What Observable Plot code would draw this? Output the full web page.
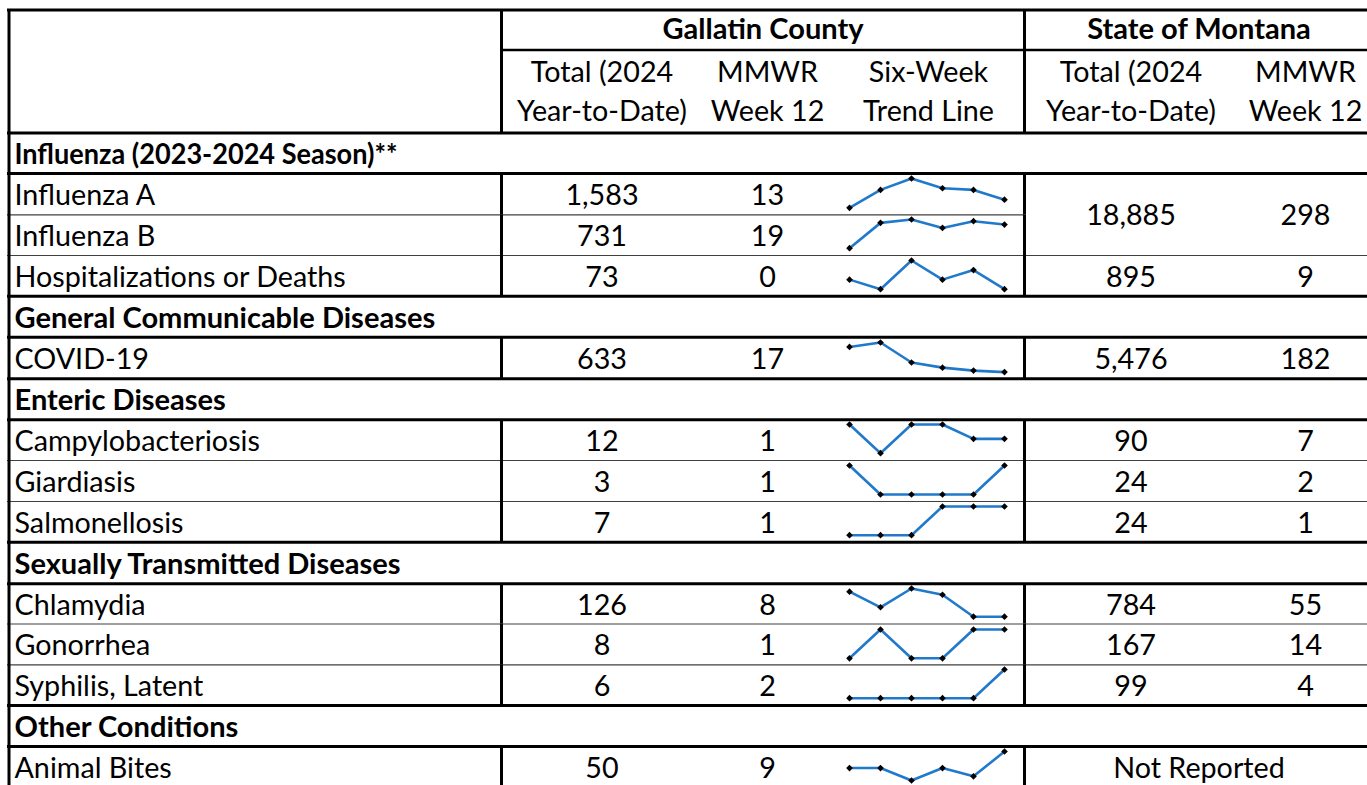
<!DOCTYPE html>
<html><head><meta charset="utf-8">
<script src="https://cdn.jsdelivr.net/npm/d3@7"></script>
<script src="https://cdn.jsdelivr.net/npm/@observablehq/plot@0.6"></script>
<style>
html,body{margin:0;padding:0;background:#fff;}
#wrap{position:relative;width:1367px;height:785px;overflow:hidden;background:#fff;}
#wrap svg{position:absolute;left:0;top:0;}
</style></head><body><div id="wrap"></div>
<script>
// ---------- data ----------
const rowLabels = ["Influenza (2023-2024 Season)**","Influenza A","Influenza B","Hospitalizations or Deaths",
  "General Communicable Diseases","COVID-19","Enteric Diseases","Campylobacteriosis","Giardiasis","Salmonellosis",
  "Sexually Transmitted Diseases","Chlamydia","Gonorrhea","Syphilis, Latent","Other Conditions","Animal Bites"];
const isSection = [true,false,false,false,true,false,true,false,false,false,true,false,false,false,true,false];
const countyTotal = [null,1583,731,73,null,633,null,12,3,7,null,126,8,6,null,50];
const countyWeek  = [null,13,19,0,null,17,null,1,1,1,null,8,1,2,null,9];
const stateTotal  = [null,18885,null,895,null,5476,null,90,24,24,null,784,167,99,null,"Not Reported"];
const stateWeek   = [null,298,null,9,null,182,null,7,2,1,null,55,14,4,null,null];
const mergedStateRows = [[1,2]]; // Influenza A and B share one State of Montana figure
const trendWeeks = [7,8,9,10,11,12];
const trendValues = [null,[8,19,26,20,19,13],[5,20,22,17,21,19],[1,0,3,1,2,0],null,[51,57,30,23,19,17],null,
  [2,0,2,2,1,1],[1,0,0,0,0,1],[0,0,0,1,1,1],null,[16,11,17,15,8,8],[0,1,0,0,1,1],[0,0,0,0,0,2],null,[5,5,2,5,3,9]];
const groupHeaders = ["Gallatin County","State of Montana"];
const colHeaders = [["Total (2024","Year-to-Date)"],["MMWR","Week 12"],["Six-Week","Trend Line"],["Total (2024","Year-to-Date)"],["MMWR","Week 12"]];

// ---------- layout ----------
const FONT = "Lato, 'Open Sans', sans-serif";
const colEdges = [8.5, 501, 702, 832, 1024, 1237, 1373];
const colCenter = i => (colEdges[i] + colEdges[i+1]) / 2;
const headerLines = [9.5, 49.5, 132.5];
const rowLines = [132.5,173,214.3,255,295.7,336.7,378.3,419.3,460,501,541.7,583.3,623.5,664.3,705,746,787];
const BLUE = "#2179cc";
const BODY_DY = 1.6;
const labelFitWidth = {0: 383}; // Calibri-like narrow digits in the bold influenza header

const ctx = document.createElement("canvas").getContext("2d");
const mw = (t, wt) => { ctx.font = `${wt} 100px Lato`; return ctx.measureText(t).width; };
const FS = 100 * 332 / mw("Hospitalizations or Deaths", "normal");
const BFS = 100 * 421 / mw("General Communicable Diseases", "bold");

const fmt = v => typeof v === "number" ? d3.format(",")(v) : v;
const rowMid = i => (rowLines[i] + rowLines[i+1]) / 2;

// grid lines
const thickH = [], thinH = [], thickV = [];
thickH.push({y: headerLines[0], x1: 7, x2: 1380});
thickH.push({y: headerLines[1], x1: colEdges[1], x2: 1380, w: 2.5});
thickH.push({y: headerLines[2], x1: 7, x2: 1380});
for (let k = 1; k < rowLines.length; k++) {
  const above = k - 1, below = k;
  const thick = isSection[above] || below >= rowLabels.length || isSection[below];
  const merged = mergedStateRows.some(([a, b]) => above >= a && below <= b);
  const seg = {y: rowLines[k], x1: 7, x2: merged ? colEdges[4] : 1380};
  (thick ? thickH : thinH).push(seg);
}
thickV.push({x: colEdges[0], y1: headerLines[0], y2: rowLines[rowLines.length - 1] + 2});
thickV.push({x: colEdges[1], y1: headerLines[0], y2: headerLines[2]});
thickV.push({x: colEdges[4], y1: headerLines[0], y2: headerLines[2]});
rowLabels.forEach((_, i) => {
  if (isSection[i]) return;
  for (const c of [1, 4]) thickV.push({x: colEdges[c], y1: rowLines[i], y2: rowLines[i+1]});
});

// texts
const headBold = [], headNorm = [], boldLeft = [], normLeft = [], normCenter = [];
headBold.push({x: (colEdges[1] + colEdges[4]) / 2, y: (headerLines[0] + headerLines[1]) / 2, t: groupHeaders[0]});
headBold.push({x: (colEdges[4] + colEdges[6]) / 2, y: (headerLines[0] + headerLines[1]) / 2, t: groupHeaders[1]});
colHeaders.forEach((lines, c) => {
  headNorm.push({x: colCenter(c + 1), y: 72.4, t: lines[0]});
  headNorm.push({x: colCenter(c + 1), y: 111.4, t: lines[1]});
});
rowLabels.forEach((lab, i) => {
  const y = rowMid(i);
  (isSection[i] ? boldLeft : normLeft).push({x: 14, y, t: lab, i});
  if (isSection[i]) return;
  normCenter.push({x: colCenter(1), y, t: fmt(countyTotal[i])});
  normCenter.push({x: colCenter(2), y, t: fmt(countyWeek[i])});
  if (stateTotal[i] == null) return;
  const m = mergedStateRows.find(([a]) => a === i);
  const sy = m ? (rowLines[m[0]] + rowLines[m[1] + 1]) / 2 : y;
  if (stateWeek[i] == null) {
    normCenter.push({x: (colEdges[4] + colEdges[6]) / 2, y: sy, t: fmt(stateTotal[i])});
  } else {
    normCenter.push({x: colCenter(4), y: sy, t: fmt(stateTotal[i])});
    normCenter.push({x: colCenter(5), y: sy, t: fmt(stateWeek[i])});
  }
});

const main = Plot.plot({
  width: 1367, height: 785, margin: 0,
  x: {type: "identity"}, y: {type: "identity"},
  style: {fontFamily: FONT, background: "transparent", color: "#000"},
  marks: [
    Plot.ruleY(thinH, {y: "y", x1: "x1", x2: "x2", stroke: "#404040", strokeWidth: 1.2}),
    Plot.ruleY(thickH, {y: "y", x1: "x1", x2: "x2", stroke: "#000", strokeWidth: d => d.w || 3}),
    Plot.ruleX(thickV, {x: "x", y1: "y1", y2: "y2", stroke: "#000", strokeWidth: 3}),
    Plot.text(headBold, {x: "x", y: "y", text: "t", fontWeight: "bold", fontSize: BFS, fill: "#000"}),
    Plot.text(headNorm, {x: "x", y: "y", text: "t", fontSize: FS, fill: "#000"}),
    Plot.text(boldLeft, {x: "x", y: "y", text: "t", dy: BODY_DY, textAnchor: "start", fontWeight: "bold", fontSize: BFS, fill: "#000"}),
    Plot.text(normLeft, {x: "x", y: "y", text: "t", dy: BODY_DY, textAnchor: "start", fontSize: FS, fill: "#000"}),
    Plot.text(normCenter, {x: "x", y: "y", text: "t", dy: BODY_DY, fontSize: FS, fill: "#000"})
  ]
});
// narrow the one bold label whose digits are wider in Lato than in the original font
d3.select(main).selectAll("text").each(function() {
  const idx = rowLabels.indexOf(this.textContent);
  if (idx in labelFitWidth) {
    this.setAttribute("textLength", labelFitWidth[idx]);
    this.setAttribute("lengthAdjust", "spacingAndGlyphs");
  }
});
const wrap = document.getElementById("wrap");
wrap.appendChild(main);

// sparklines, one small Plot per row
trendValues.forEach((vals, i) => {
  if (!vals) return;
  const pts = vals.map((v, j) => ({week: trendWeeks[j], value: v}));
  const h = rowLines[i+1] - rowLines[i];
  const sp = Plot.plot({
    width: colEdges[4] - colEdges[3], height: h,
    marginTop: 5, marginBottom: 7, marginLeft: 17, marginRight: 20,
    x: {axis: null, domain: [trendWeeks[0], trendWeeks[trendWeeks.length - 1]]},
    y: {axis: null},
    style: {background: "transparent", overflow: "visible"},
    marks: [
      Plot.line(pts, {x: "week", y: "value", stroke: BLUE, strokeWidth: 2.6}),
      Plot.dot(pts, {x: "week", y: "value", symbol: "diamond2", r: 3, fill: "#000", stroke: "none"})
    ]
  });
  sp.style.left = colEdges[3] + "px";
  sp.style.top = rowLines[i] + "px";
  wrap.appendChild(sp);
});
</script></body></html>
